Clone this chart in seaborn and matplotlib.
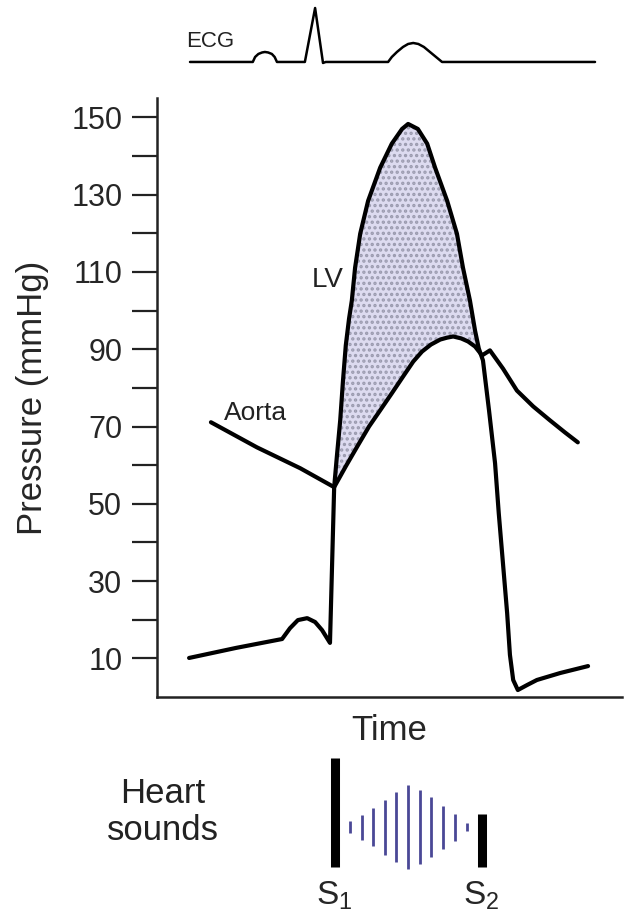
import numpy as np
import pandas as pd
import matplotlib
matplotlib.use('Agg')
import matplotlib.pyplot as plt
import seaborn as sns

# time axis runs 0..1 (arbitrary units), pressure in mmHg
lv_time = [0.069, 0.170, 0.269, 0.286, 0.303, 0.323, 0.340, 0.355, 0.372, 0.381,
           0.387, 0.394, 0.400, 0.406, 0.413, 0.419, 0.426, 0.437, 0.454, 0.480,
           0.505, 0.527, 0.540, 0.561, 0.581, 0.598, 0.624, 0.645, 0.658, 0.673,
           0.684, 0.692, 0.701, 0.714, 0.727, 0.735, 0.744, 0.753, 0.759, 0.766,
           0.776, 0.796, 0.817, 0.867, 0.927]
lv_pressure = [10.1, 12.7, 15.0, 17.8, 19.9, 20.4, 19.4, 17.3, 14.0, 54.3,
               62.5, 71.6, 81.9, 91.0, 97.9, 102.6, 111.1, 119.9, 128.4, 137.0,
               143.2, 147.0, 148.3, 147.0, 143.2, 137.0, 128.4, 119.9, 111.1, 102.6,
               94.8, 90.2, 87.1, 74.2, 60.5, 47.5, 34.6, 21.7, 10.9, 4.4,
               1.8, 3.1, 4.4, 6.2, 8.0]

aorta_time = [0.116, 0.215, 0.308, 0.381, 0.406, 0.432, 0.456, 0.480, 0.505, 0.529,
              0.551, 0.570, 0.589, 0.609, 0.624, 0.637, 0.654, 0.669, 0.684, 0.699,
              0.716, 0.744, 0.774, 0.809, 0.845, 0.877, 0.905]
aorta_pressure = [71.1, 64.6, 59.2, 54.3, 59.7, 65.1, 70.0, 74.2, 78.6, 82.9,
                  86.8, 89.4, 91.2, 92.5, 93.0, 93.3, 92.8, 92.0, 90.7, 88.4,
                  89.7, 85.0, 79.3, 75.2, 71.6, 68.5, 65.9]

ecg_time = [0.071, 0.206, 0.211, 0.218, 0.226, 0.232, 0.239, 0.247, 0.253, 0.258,
            0.318, 0.340, 0.357, 0.363, 0.497, 0.505, 0.516, 0.529, 0.540, 0.551,
            0.562, 0.574, 0.587, 0.600, 0.613, 0.942]
ecg_amp = [0, 0, 5, 8, 9.5, 10, 9.5, 8, 5, 0,
           0, 54, -1, 0, 0, 5, 10, 15, 18, 19,
           18, 15, 10, 5, 0, 0]

sound_labels = ['S$_1$', 'S$_2$']
sound_time = [0.382, 0.698]
sound_amp = [109, 53]
murmur_time = [0.415, 0.440, 0.465, 0.490, 0.515, 0.540, 0.565, 0.590, 0.615, 0.640, 0.666]
murmur_amp = [12, 25, 38, 55, 70, 85, 75, 60, 43, 27, 8]

major_ticks = [10, 30, 50, 70, 90, 110, 130, 150]
minor_ticks = [20, 40, 60, 80, 100, 120, 140]

sns.set_style('white')
plt.rcParams['font.family'] = ['Liberation Sans', 'DejaVu Sans']
plt.rcParams['mathtext.default'] = 'regular'
plt.rcParams['hatch.linewidth'] = 1.6

fig = plt.figure(figsize=(6.25, 9.13), dpi=100)
ax = fig.add_axes([0.2512, 0.2366, 0.744, 0.656])
ax_ecg = fig.add_axes([0.2512, 0.9179, 0.744, 0.0821])
ax_snd = fig.add_axes([0.2512, 0.0471, 0.744, 0.1314])

lv = pd.DataFrame({'t': lv_time, 'p': lv_pressure})
aorta = pd.DataFrame({'t': aorta_time, 'p': aorta_pressure})

# shaded ejection area: LV above aorta between the two crossings
t0 = aorta_time[3]
lv_part = lv[(lv.t >= t0) & (lv.t <= 0.701)]
ao_part = aorta[(aorta.t >= t0) & (aorta.t <= 0.699)].iloc[::-1]
ax.fill(np.concatenate([lv_part.t, ao_part.t]), np.concatenate([lv_part.p, ao_part.p]),
        facecolor='#dddbf0', edgecolor='#9a9aae', hatch='...', linewidth=0, zorder=1)

sns.lineplot(data=lv, x='t', y='p', sort=False, estimator=None, color='black', lw=3, ax=ax, zorder=3)
sns.lineplot(data=aorta, x='t', y='p', sort=False, estimator=None, color='black', lw=3, ax=ax, zorder=3)

ax.text(0.366, 108, 'LV', fontsize=20, ha='center', va='center', color='#222222')
ax.text(0.211, 73.4, 'Aorta', fontsize=19, ha='center', va='center', color='#222222')

ax.set_xlim(0, 1)
ax.set_ylim(0, 155)
ax.set_yticks(major_ticks)
ax.set_yticks(minor_ticks, minor=True)
ax.set_xticks([])
ax.tick_params(axis='y', which='both', direction='out', length=18, width=1.6, left=True,
               labelsize=22, pad=7, color='#222222')
for side in ['top', 'right']:
    ax.spines[side].set_visible(False)
for side in ['left', 'bottom']:
    ax.spines[side].set_linewidth(1.8)
    ax.spines[side].set_color('#222222')
ax.set_xlabel('Time', fontsize=25, labelpad=12)
ax.set_ylabel('Pressure (mmHg)', fontsize=25, labelpad=16)

# ECG strip
ecg = pd.DataFrame({'t': ecg_time, 'a': ecg_amp})
sns.lineplot(data=ecg, x='t', y='a', sort=False, estimator=None, color='black', lw=1.8, ax=ax_ecg)
ax_ecg.text(0.114, 20, 'ECG', fontsize=16, ha='center', va='center', color='#222222')
ax_ecg.set_xlim(0, 1)
ax_ecg.set_ylim(-13, 62)
ax_ecg.axis('off')

# heart sounds
ax_snd.vlines(sound_time, 3, [3 + a for a in sound_amp], color='black', lw=6.5)
mid = 43
ax_snd.vlines(murmur_time, [mid - a / 2 for a in murmur_amp], [mid + a / 2 for a in murmur_amp],
              color='#4a4896', lw=2)
for lab, t in zip(sound_labels, sound_time):
    ax_snd.text(t, -10, lab, fontsize=24, ha='center', va='top', clip_on=False)
ax_snd.set_xlim(0, 1)
ax_snd.set_ylim(0, 120)
ax_snd.axis('off')

fig.text(0.261, 0.1106, 'Heart\nsounds', fontsize=25, ha='center', va='center',
         linespacing=1.15, color='#222222')

fig.savefig('out.png', dpi=100)
